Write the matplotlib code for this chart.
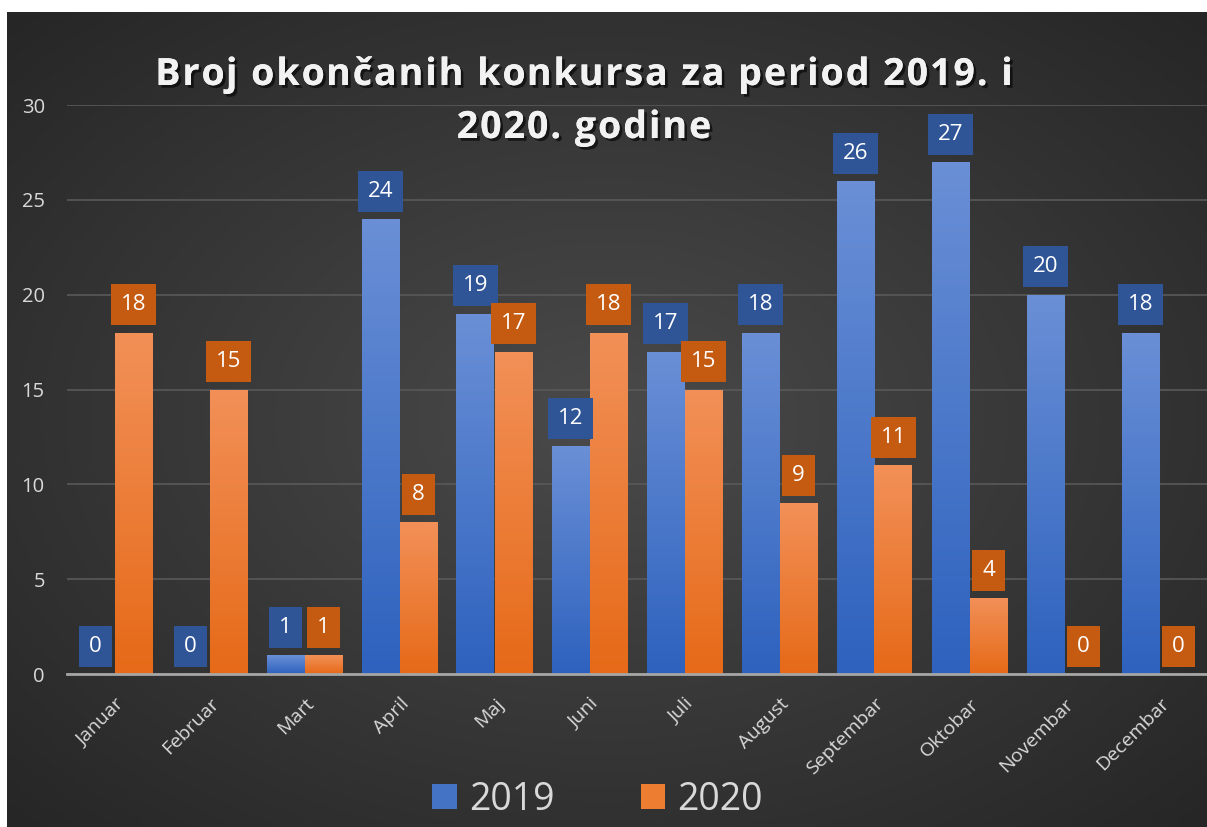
import matplotlib.pyplot as plt
import matplotlib.patheffects as pe
from matplotlib.colors import LinearSegmentedColormap
from matplotlib.patches import Patch
from matplotlib.font_manager import FontProperties
from matplotlib.textpath import TextToPath
import numpy as np

mjeseci = ["Januar", "Februar", "Mart", "April", "Maj", "Juni", "Juli",
           "August", "Septembar", "Oktobar", "Novembar", "Decembar"]
god_2019 = [0, 0, 1, 24, 19, 12, 17, 18, 26, 27, 20, 18]
god_2020 = [18, 15, 1, 8, 17, 18, 15, 9, 11, 4, 0, 0]
naslov = "Broj okončanih konkursa za period 2019. i\n2020. godine"

plt.rcParams['font.family'] = ['Open Sans', 'DejaVu Sans']

fig = plt.figure(figsize=(12.07, 8.27), dpi=100, facecolor="white")

# pozadina - radijalni gradijent
bg = fig.add_axes([7 / 1207, 0, 1 - 7 / 1207, 1 - 12 / 827])
yy, xx = np.mgrid[-1:1:300j, -1:1:400j]
r = np.sqrt(xx ** 2 + yy ** 2) / np.sqrt(2)
bg_cmap = LinearSegmentedColormap.from_list("bg", ["#4a4a4a", "#262626"])
bg.imshow(r, cmap=bg_cmap, aspect="auto", extent=[0, 1, 0, 1])
bg.axis("off")

ax = fig.add_axes([67 / 1207, 153 / 827, 1140 / 1207, 569 / 827])
ax.patch.set_alpha(0)

x = np.arange(len(mjeseci))
w = 0.4
plava = LinearSegmentedColormap.from_list("pl", ["#2e62be", "#6a8fd6"])
narandz = LinearSegmentedColormap.from_list("na", ["#e66a18", "#f29058"])
grad = np.linspace(0, 1, 100).reshape(-1, 1)

def gradient_bars(bars, cmap):
    for b in bars:
        h = b.get_height()
        if h <= 0:
            continue
        bx, by = b.get_x(), b.get_y()
        im = ax.imshow(grad, cmap=cmap, aspect="auto", origin="lower",
                       extent=[bx, bx + b.get_width(), by, by + h], zorder=3)
        im.set_clip_path(b)

b1 = ax.bar(x - w / 2, god_2019, w, color="#4472c4", zorder=2)
b2 = ax.bar(x + w / 2, god_2020, w, color="#ed7d31", zorder=2)
gradient_bars(b1, plava)
gradient_bars(b2, narandz)
ax.set_xlim(-0.5, 11.5)
ax.set_ylim(0, 30)

# oznake vrijednosti
for xs, vals, fc in [(x - w / 2, god_2019, "#2f5597"), (x + w / 2, god_2020, "#c55a11")]:
    for xi, v in zip(xs, vals):
        ax.annotate(str(v), (xi, v), xytext=(0, 20), textcoords="offset points",
                    ha="center", va="center", color="white", fontsize=16,
                    bbox=dict(boxstyle="square,pad=0.45", fc=fc, ec="none"), zorder=5)

ax.set_yticks(np.arange(0, 31, 5))
ax.yaxis.grid(True, color="#595959", linewidth=1.2, zorder=0)
ax.set_axisbelow(True)
ax.tick_params(axis="y", length=0, colors="#d9d9d9", labelsize=14.5, pad=16)
ax.set_xticks(x)
ax.set_xticklabels(mjeseci, rotation=45, ha="right", rotation_mode="anchor")
ax.tick_params(axis="x", length=0, colors="#d9d9d9", labelsize=14, pad=15)
for s in ["top", "right", "left"]:
    ax.spines[s].set_visible(False)
ax.spines["bottom"].set_color("#a6a6a6")
ax.spines["bottom"].set_linewidth(2)
ax.spines["bottom"].set_zorder(4)

# naslov sa razmakom izmedju slova
senka = [pe.withSimplePatchShadow(offset=(2, -2), shadow_rgbFace="black", alpha=0.6), pe.Normal()]
fp = FontProperties(family=['Open Sans', 'DejaVu Sans'], weight="bold", size=27)
t2p = TextToPath()
razmak = 2.0  # px
W, H = fig.get_size_inches() * fig.dpi
for i, red in enumerate(naslov.split("\n")):
    sirine = [t2p.get_text_width_height_descent(red[:k], fp, ismath=False)[0] * fig.dpi / 72
              if k else 0 for k in range(len(red) + 1)]
    ukupno = sirine[-1] + razmak * (len(red) - 1)
    x0 = 584 - ukupno / 2
    yb = 1 - (85 + 53 * i) / 827
    for k, ch in enumerate(red):
        if ch == " ":
            continue
        fig.text((x0 + sirine[k] + razmak * k) / W, yb, ch, ha="left", va="baseline",
                 color="#f2f2f2", fontproperties=fp, path_effects=senka)

handles = [Patch(facecolor="#4472c4", label="2019"), Patch(facecolor="#ed7d31", label="2020")]
fig.legend(handles=handles, loc="center", bbox_to_anchor=(0.495, 0.033), ncol=2, frameon=False,
           fontsize=27, labelcolor="#d9d9d9", handlelength=0.65, handleheight=0.65,
           columnspacing=2.3, handletextpad=0.32)

fig.savefig("out.png", dpi=100, facecolor="white")
